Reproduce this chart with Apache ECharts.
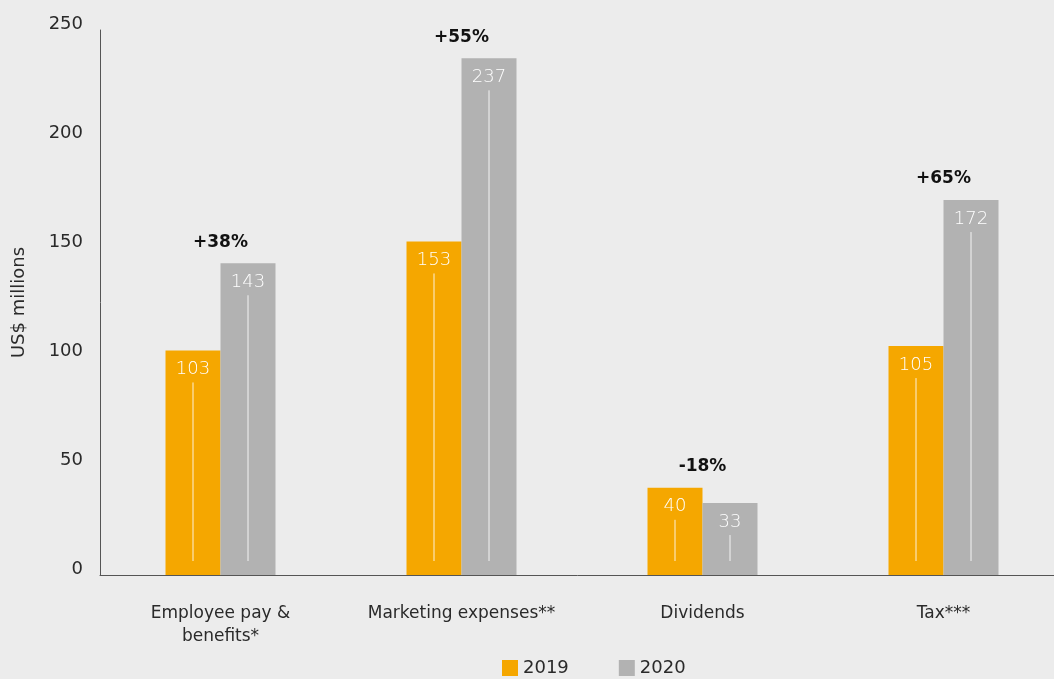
<!DOCTYPE html>
<html><head><meta charset="utf-8">
<script src="https://cdn.jsdelivr.net/npm/echarts@6/dist/echarts.min.js"></script>
<style>html,body{margin:0;padding:0;background:#ececec;}#c{width:1054px;height:679px;}</style>
</head><body><div id="c"></div>
<script>
const categories = ['Employee pay &\nbenefits*', 'Marketing expenses**', 'Dividends', 'Tax***'];
const values2019 = [103, 153, 40, 105];
const values2020 = [143, 237, 33, 172];
const changeLabels = ['+38%', '+55%', '-18%', '+65%'];
const yTicks = [0, 50, 100, 150, 200, 250];

const FONT = '"DejaVu Sans", sans-serif';
const BAR_W = 55;
const chart = echarts.init(document.getElementById('c'));
const customData = categories.map((c, i) => [i, values2019[i], values2020[i], changeLabels[i]]);

chart.setOption({
  backgroundColor: '#ececec',
  animation: false,
  textStyle: { fontFamily: FONT },
  grid: { left: 100, top: 30, width: 964, height: 545, outerBoundsMode: 'none' },
  legend: {
    data: ['2019', '2020'], bottom: -3, left: 497, itemWidth: 16, itemHeight: 16, itemGap: 50,
    icon: 'rect', textStyle: { fontSize: 18, color: '#2a2a2a', fontFamily: FONT }
  },
  xAxis: {
    type: 'category', data: categories,
    axisLine: { lineStyle: { color: '#555', width: 1 } },
    axisTick: { show: false },
    axisLabel: { margin: 27, fontSize: 17, color: '#2a2a2a', lineHeight: 23, fontFamily: FONT, interval: 0 }
  },
  yAxis: {
    type: 'value', min: 0, max: 250, interval: 50,
    name: 'US$ millions', nameLocation: 'middle', nameGap: 72,
    nameTextStyle: { fontSize: 18, color: '#2a2a2a', fontFamily: FONT },
    axisLine: { show: true, lineStyle: { color: '#555', width: 1 } },
    axisTick: { show: false },
    splitLine: { show: false },
    axisLabel: { margin: 17, fontSize: 18, color: '#2a2a2a', fontFamily: FONT, verticalAlign: 'bottom', lineHeight: 12 }
  },
  series: [
    { name: '2019', type: 'bar', data: values2019, barWidth: BAR_W, barGap: '0%', itemStyle: { color: '#f5a700' },
      label: { show: true, position: 'insideTop', distance: 10, color: '#fff', fontSize: 18, fontFamily: FONT, fontWeight: 200 } },
    { name: '2020', type: 'bar', data: values2020, barWidth: BAR_W, barGap: '0%', itemStyle: { color: '#b2b2b2' },
      label: { show: true, position: 'insideTop', distance: 10, color: '#fff', fontSize: 18, fontFamily: FONT, fontWeight: 200 } },
    { type: 'custom', data: customData, z: 10, silent: true,
      renderItem: function (params, api) {
        const i = api.value(0);
        const v1 = api.value(1), v2 = api.value(2);
        const p1 = api.coord([i, v1]);
        const p2 = api.coord([i, v2]);
        const p0 = api.coord([i, 0]);
        const half = BAR_W / 2;
        const pm = api.coord([i, Math.max(v1, v2)]);
        const lineStyle = { stroke: 'rgba(255,255,255,0.85)', lineWidth: 1 };
        return { type: 'group', children: [
          { type: 'line', shape: { x1: p1[0] - half, y1: p1[1] + 32, x2: p1[0] - half, y2: p0[1] - 14 }, style: lineStyle },
          { type: 'line', shape: { x1: p2[0] + half, y1: p2[1] + 32, x2: p2[0] + half, y2: p0[1] - 14 }, style: lineStyle },
          { type: 'text', style: { text: changeLabels[params.dataIndex], x: pm[0], y: pm[1] - 21, align: 'center', verticalAlign: 'middle',
              fontSize: 17, fontWeight: 'bold', fontFamily: FONT, fill: '#111' } }
        ]};
      }
    }
  ]
});
</script></body></html>
